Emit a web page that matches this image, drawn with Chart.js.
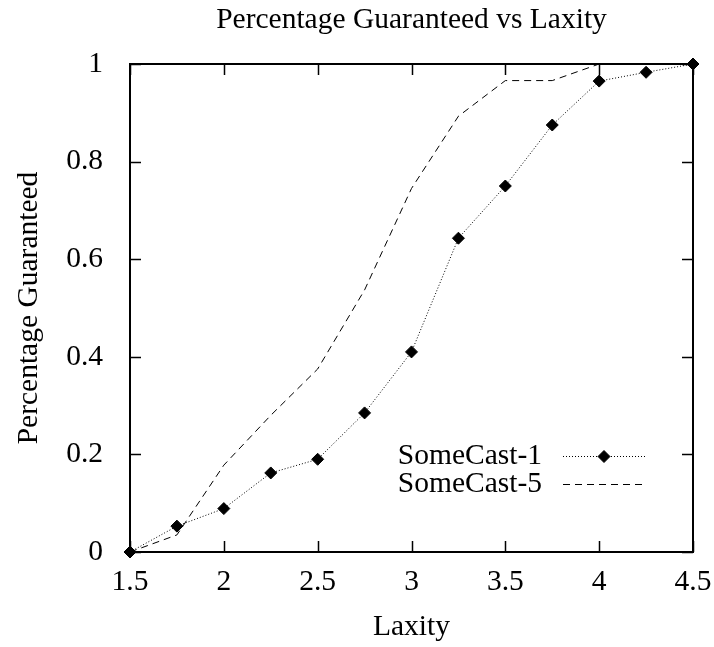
<!DOCTYPE html>
<html>
<head>
<meta charset="utf-8">
<script src="https://cdn.jsdelivr.net/npm/chart.js@4"></script>
<style>
  html, body { margin: 0; padding: 0; background: #fff; }
  #c { display: block; }
</style>
</head>
<body>
<canvas id="c" width="714" height="647"></canvas>
<script>
const laxity = [1.5, 1.75, 2, 2.25, 2.5, 2.75, 3, 3.25, 3.5, 3.75, 4, 4.25, 4.5];
const someCast1 = [0, 0.053, 0.089, 0.162, 0.19, 0.285, 0.41, 0.643, 0.75, 0.875, 0.965, 0.983, 1];
const someCast5 = [0, 0.035, 0.178, 0.28, 0.375, 0.537, 0.745, 0.893, 0.966, 0.966, 1, 1, 1];

const xTicks = [1.5, 2, 2.5, 3, 3.5, 4, 4.5];
const xTickLabels = ["1.5", "2", "2.5", "3", "3.5", "4", "4.5"];
const yTicks = [0, 0.2, 0.4, 0.6, 0.8, 1];
const yTickLabels = ["0", "0.2", "0.4", "0.6", "0.8", "1"];

const FONT = "'Liberation Serif', 'Times New Roman', serif";
const SIZE = 29.5;

// gnuplot style box with inward ticks on all four sides
const frame = {
  id: "frame",
  beforeDatasetsDraw(chart) {
    const { ctx, chartArea: a, scales } = chart;
    const len = 11;
    ctx.save();
    ctx.strokeStyle = "#000";
    ctx.lineWidth = 1.5;
    ctx.beginPath();
    xTicks.forEach(v => {
      const px = Math.round(scales.x.getPixelForValue(v)) + 0.5;
      ctx.moveTo(px, a.bottom); ctx.lineTo(px, a.bottom - len);
      ctx.moveTo(px, a.top); ctx.lineTo(px, a.top + len);
    });
    yTicks.forEach(v => {
      const py = Math.round(scales.y.getPixelForValue(v)) + 0.5;
      ctx.moveTo(a.left, py); ctx.lineTo(a.left + len, py);
      ctx.moveTo(a.right, py); ctx.lineTo(a.right - len, py);
    });
    ctx.stroke();
    ctx.lineWidth = 2;
    ctx.strokeRect(a.left, a.top, a.right - a.left, a.bottom - a.top);
    ctx.restore();
  }
};

// key drawn inside the plot, like gnuplot
const key = {
  id: "key",
  afterDatasetsDraw(chart) {
    const { ctx } = chart;
    const textRight = 542, x0 = 563, x1 = 645;
    const rows = [456, 484];
    ctx.save();
    ctx.font = SIZE + "px " + FONT;
    ctx.fillStyle = "#000";
    ctx.textAlign = "right";
    ctx.textBaseline = "middle";
    chart.data.datasets.forEach((ds, i) => {
      const y = rows[i];
      ctx.fillText(ds.label, textRight, y);
      ctx.save();
      ctx.strokeStyle = ds.borderColor;
      ctx.lineWidth = ds.borderWidth;
      ctx.setLineDash(ds.borderDash);
      ctx.beginPath();
      ctx.moveTo(x0, y + 0.5); ctx.lineTo(x1, y + 0.5);
      ctx.stroke();
      ctx.restore();
      if (ds.pointRadius > 0) {
        Chart.helpers.drawPoint(ctx, {
          pointStyle: ds.pointStyle, radius: ds.pointRadius, borderWidth: 1, rotation: 0
        }, (x0 + x1) / 2, y + 0.5);
        ctx.fillStyle = "#000";
      }
    });
    ctx.restore();
  }
};

new Chart(document.getElementById("c"), {
  type: "line",
  data: {
    datasets: [
      {
        label: "SomeCast-1",
        data: laxity.map((x, i) => ({ x: x, y: someCast1[i] })),
        borderColor: "#000",
        backgroundColor: "#000",
        borderWidth: 1,
        borderDash: [1, 2],
        pointStyle: "rectRot",
        pointRadius: 6,
        pointBackgroundColor: "#000",
        pointBorderColor: "#000",
        tension: 0,
        clip: false
      },
      {
        label: "SomeCast-5",
        data: laxity.map((x, i) => ({ x: x, y: someCast5[i] })),
        borderColor: "#000",
        backgroundColor: "#000",
        borderWidth: 1,
        borderDash: [7, 5],
        pointRadius: 0,
        tension: 0,
        clip: false
      }
    ]
  },
  options: {
    responsive: false,
    animation: false,
    devicePixelRatio: 1,
    layout: { padding: { left: 0, right: 21, top: 0, bottom: 0 } },
    plugins: {
      legend: { display: false },
      tooltip: { enabled: false },
      title: {
        display: true,
        text: "Percentage Guaranteed vs Laxity",
        fullSize: false,
        color: "#000",
        font: { family: FONT, size: SIZE, weight: "normal" },
        padding: { top: 3, bottom: 25.6 }
      }
    },
    scales: {
      x: {
        type: "linear",
        min: 1.5,
        max: 4.5,
        afterBuildTicks: s => { s.ticks = xTicks.map(v => ({ value: v })); },
        afterFit: s => { s.height = 95; s.paddingLeft = 0; s.paddingRight = 0; },
        grid: { display: false },
        border: { display: false },
        ticks: {
          color: "#000",
          font: { family: FONT, size: SIZE },
          padding: 5,
          maxRotation: 0,
          autoSkip: false,
          callback: (v, i) => xTickLabels[i]
        },
        title: {
          display: true,
          text: "Laxity",
          color: "#000",
          font: { family: FONT, size: SIZE },
          padding: { top: 0, bottom: 2 }
        }
      },
      y: {
        type: "linear",
        min: 0,
        max: 1,
        afterBuildTicks: s => { s.ticks = yTicks.map(v => ({ value: v })); },
        afterFit: s => { s.width = 130; s.paddingTop = 0; s.paddingBottom = 0; },
        grid: { display: false },
        border: { display: false },
        ticks: {
          color: "#000",
          font: { family: FONT, size: SIZE },
          padding: 19,
          autoSkip: false,
          callback: (v, i) => yTickLabels[i]
        },
        title: {
          display: true,
          text: "Percentage Guaranteed",
          color: "#000",
          font: { family: FONT, size: SIZE },
          padding: { top: 12, bottom: 0 }
        }
      }
    }
  },
  plugins: [frame, key]
});
</script>
</body>
</html>
